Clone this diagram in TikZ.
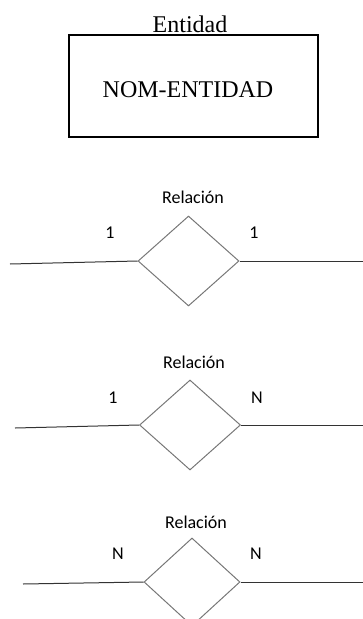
\documentclass[tikz,border=0pt]{standalone}
\usepackage{fontspec}
\setmainfont{Liberation Serif}
\newfontfamily\calib{Carlito}
\usetikzlibrary{shapes.geometric}
\definecolor{edgegray}{HTML}{777777}
\definecolor{linegray}{HTML}{333333}
\begin{document}
\begin{tikzpicture}[x=1pt,y=-1pt,
  entity/.style={draw=black,line width=1.8pt,minimum width=249pt,minimum height=102pt,inner sep=0pt},
  rel/.style={diamond,draw=edgegray,line width=1pt,inner sep=0pt,minimum width=101pt,minimum height=90pt},
  lbl/.style={font=\calib\fontsize{18}{21}\selectfont,text=black,inner sep=0pt},
  conn/.style={draw=linegray,line width=1pt}]
\useasboundingbox (0,0) rectangle (363,619);
% entity
\node[entity] (ent) at (193.5,86) {};
\node[font=\fontsize{24}{27}\selectfont,inner sep=0pt] (entl) at (190,24) {Entidad};
\node[font=\fontsize{24}{27}\selectfont,inner sep=0pt] (entn) at (188,90) {NOM-ENTIDAD};
% relation 1
\node[rel] (d1) at (188.5,261) {};
\node[lbl] (t1) at (193,197) {Relación};
\node[lbl] (a1) at (110,233) {1};
\node[lbl] (b1) at (254,233) {1};
\coordinate (l1) at (10,264);
\coordinate (r1) at (363,261);
\draw[conn] (l1) -- (d1.west);
\draw[conn] (d1.east) -- (r1);
% relation 2
\node[rel] (d2) at (190,425) {};
\node[lbl] (t2) at (194,362) {Relación};
\node[lbl] (a2) at (113,398) {1};
\node[lbl] (b2) at (257,398) {N};
\coordinate (l2) at (15,428);
\coordinate (r2) at (363,425);
\draw[conn] (l2) -- (d2.west);
\draw[conn] (d2.east) -- (r2);
% relation 3
\node[rel,minimum width=96pt,minimum height=88pt] (d3) at (192,582) {};
\node[lbl] (t3) at (196,522) {Relación};
\node[lbl] (a3) at (118,554) {N};
\node[lbl] (b3) at (256,554) {N};
\coordinate (l3) at (23,584);
\coordinate (r3) at (363,582);
\draw[conn] (l3) -- (d3.west);
\draw[conn] (d3.east) -- (r3);
\end{tikzpicture}
\end{document}
